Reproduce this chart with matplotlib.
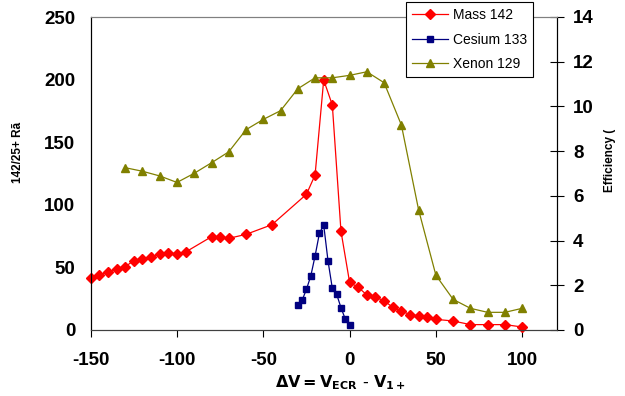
import numpy as np
import matplotlib
matplotlib.use("Agg")
import matplotlib.pyplot as plt

plt.rcParams['font.family'] = ['Liberation Sans', 'DejaVu Sans']
plt.rcParams['axes.unicode_minus'] = False

# Mass 142 (left axis)
mass_x = [-150, -145, -140, -135, -130, -125, -120, -115, -110, -105, -100, -95,
          -80, -75, -70, -60, -45, -25, -20, -15, -10, -5,
          0, 5, 10, 15, 20, 25, 30, 35, 40, 45, 50, 60, 70, 80, 90, 100]
mass_y = [41.8, 43.7, 46.6, 48.7, 50.6, 55.4, 56.4, 58.6, 60.7, 61.8, 60.7, 62.3,
          74.5, 74.5, 73.2, 76.4, 84.1, 108.4, 123.8, 199.7, 179.7, 79.0,
          38.1, 34.1, 28.0, 26.1, 23.4, 18.1, 15.2, 12.3, 11.2, 10.4, 8.5, 7.2, 4.3, 4.3, 4.3, 2.4]

# Cesium 133 (right axis)
cs_x = [-30, -27.5, -25, -22.5, -20, -17.5, -15, -12.5, -10, -7.5, -5, -2.5, 0]
cs_y = [1.10, 1.33, 1.82, 2.41, 3.31, 4.32, 4.70, 3.09, 1.86, 1.60, 1.00, 0.49, 0.22]

# Xenon 129 (right axis)
xe_x = [-130, -120, -110, -100, -90, -80, -70, -60, -50, -40, -30, -20,
        -10, 0, 10, 20, 30, 40, 50, 60, 70, 80, 90, 100]
xe_y = [7.26, 7.10, 6.89, 6.60, 7.01, 7.48, 7.97, 8.96, 9.42, 9.81, 10.79, 11.28,
        11.28, 11.39, 11.55, 11.06, 9.17, 5.37, 2.45, 1.37, 0.97, 0.79, 0.79, 0.97]

x_ticks = [-150, -100, -50, 0, 50, 100]
left_ticks = [0, 50, 100, 150, 200, 250]
right_ticks = [0, 2, 4, 6, 8, 10, 12, 14]

fig = plt.figure(figsize=(6.25, 3.96), dpi=100)
ax = fig.add_axes([90.7/625, 1-330/396, (556.7-90.7)/625, (330-17)/396])
ax2 = ax.twinx()

l1, = ax.plot(mass_x, mass_y, color='#ff0000', lw=0.9, marker='D', ms=5,
              label='Mass 142', clip_on=False)
l2, = ax2.plot(cs_x, cs_y, color='#000080', lw=0.9, marker='s', ms=4.5,
               label='Cesium 133', clip_on=False)
l3, = ax2.plot(xe_x, xe_y, color='#808000', lw=0.9, marker='^', ms=5.8,
               label='Xenon 129', clip_on=False)

ax.set_xlim(-150, 120)
ax.set_ylim(0, 250)
ax2.set_ylim(0, 14)
ax.set_xticks(x_ticks)
ax.set_yticks(left_ticks)
ax2.set_yticks(right_ticks)

for a in (ax, ax2):
    a.spines['top'].set_color('#808080')
    a.spines['bottom'].set_color('#404040')
    a.spines['left'].set_color('black')
    a.spines['right'].set_color('black')

ax.tick_params(axis='y', length=0, pad=11, labelsize=13.5)
ax.tick_params(axis='x', direction='out', length=5, width=0.8, pad=11, labelsize=13.5)
ax2.tick_params(axis='y', direction='inout', length=9.5, width=0.8, pad=7, labelsize=13.5)
for lab in ax.get_xticklabels() + ax.get_yticklabels() + ax2.get_yticklabels():
    lab.set_fontweight('bold')

fig.text(18/625, 1-152/396, '142/25+ Rã', rotation=90, ha='center', va='center',
         fontsize=8.5, fontweight='bold')
fig.text(610/625, 1-160/396, 'Efficiency (', rotation=90, ha='center', va='center',
         fontsize=8.5, fontweight='bold')
fig.text(340/625, 1-383/396, r'$\mathbf{\Delta V = V_{ECR}\ \text{-}\ V_{1+}}$',
         ha='center', va='center', fontsize=11.5)

leg = fig.legend(handles=[l1, l2, l3], loc='upper left',
                 bbox_to_anchor=(406/625, 1-2/396), borderaxespad=0, fancybox=False,
                 edgecolor='black', framealpha=1, fontsize=10, handlelength=2.6,
                 borderpad=0.45, labelspacing=0.75, handletextpad=0.3)
leg.get_frame().set_linewidth(0.8)

fig.savefig('out.png', dpi=100)
